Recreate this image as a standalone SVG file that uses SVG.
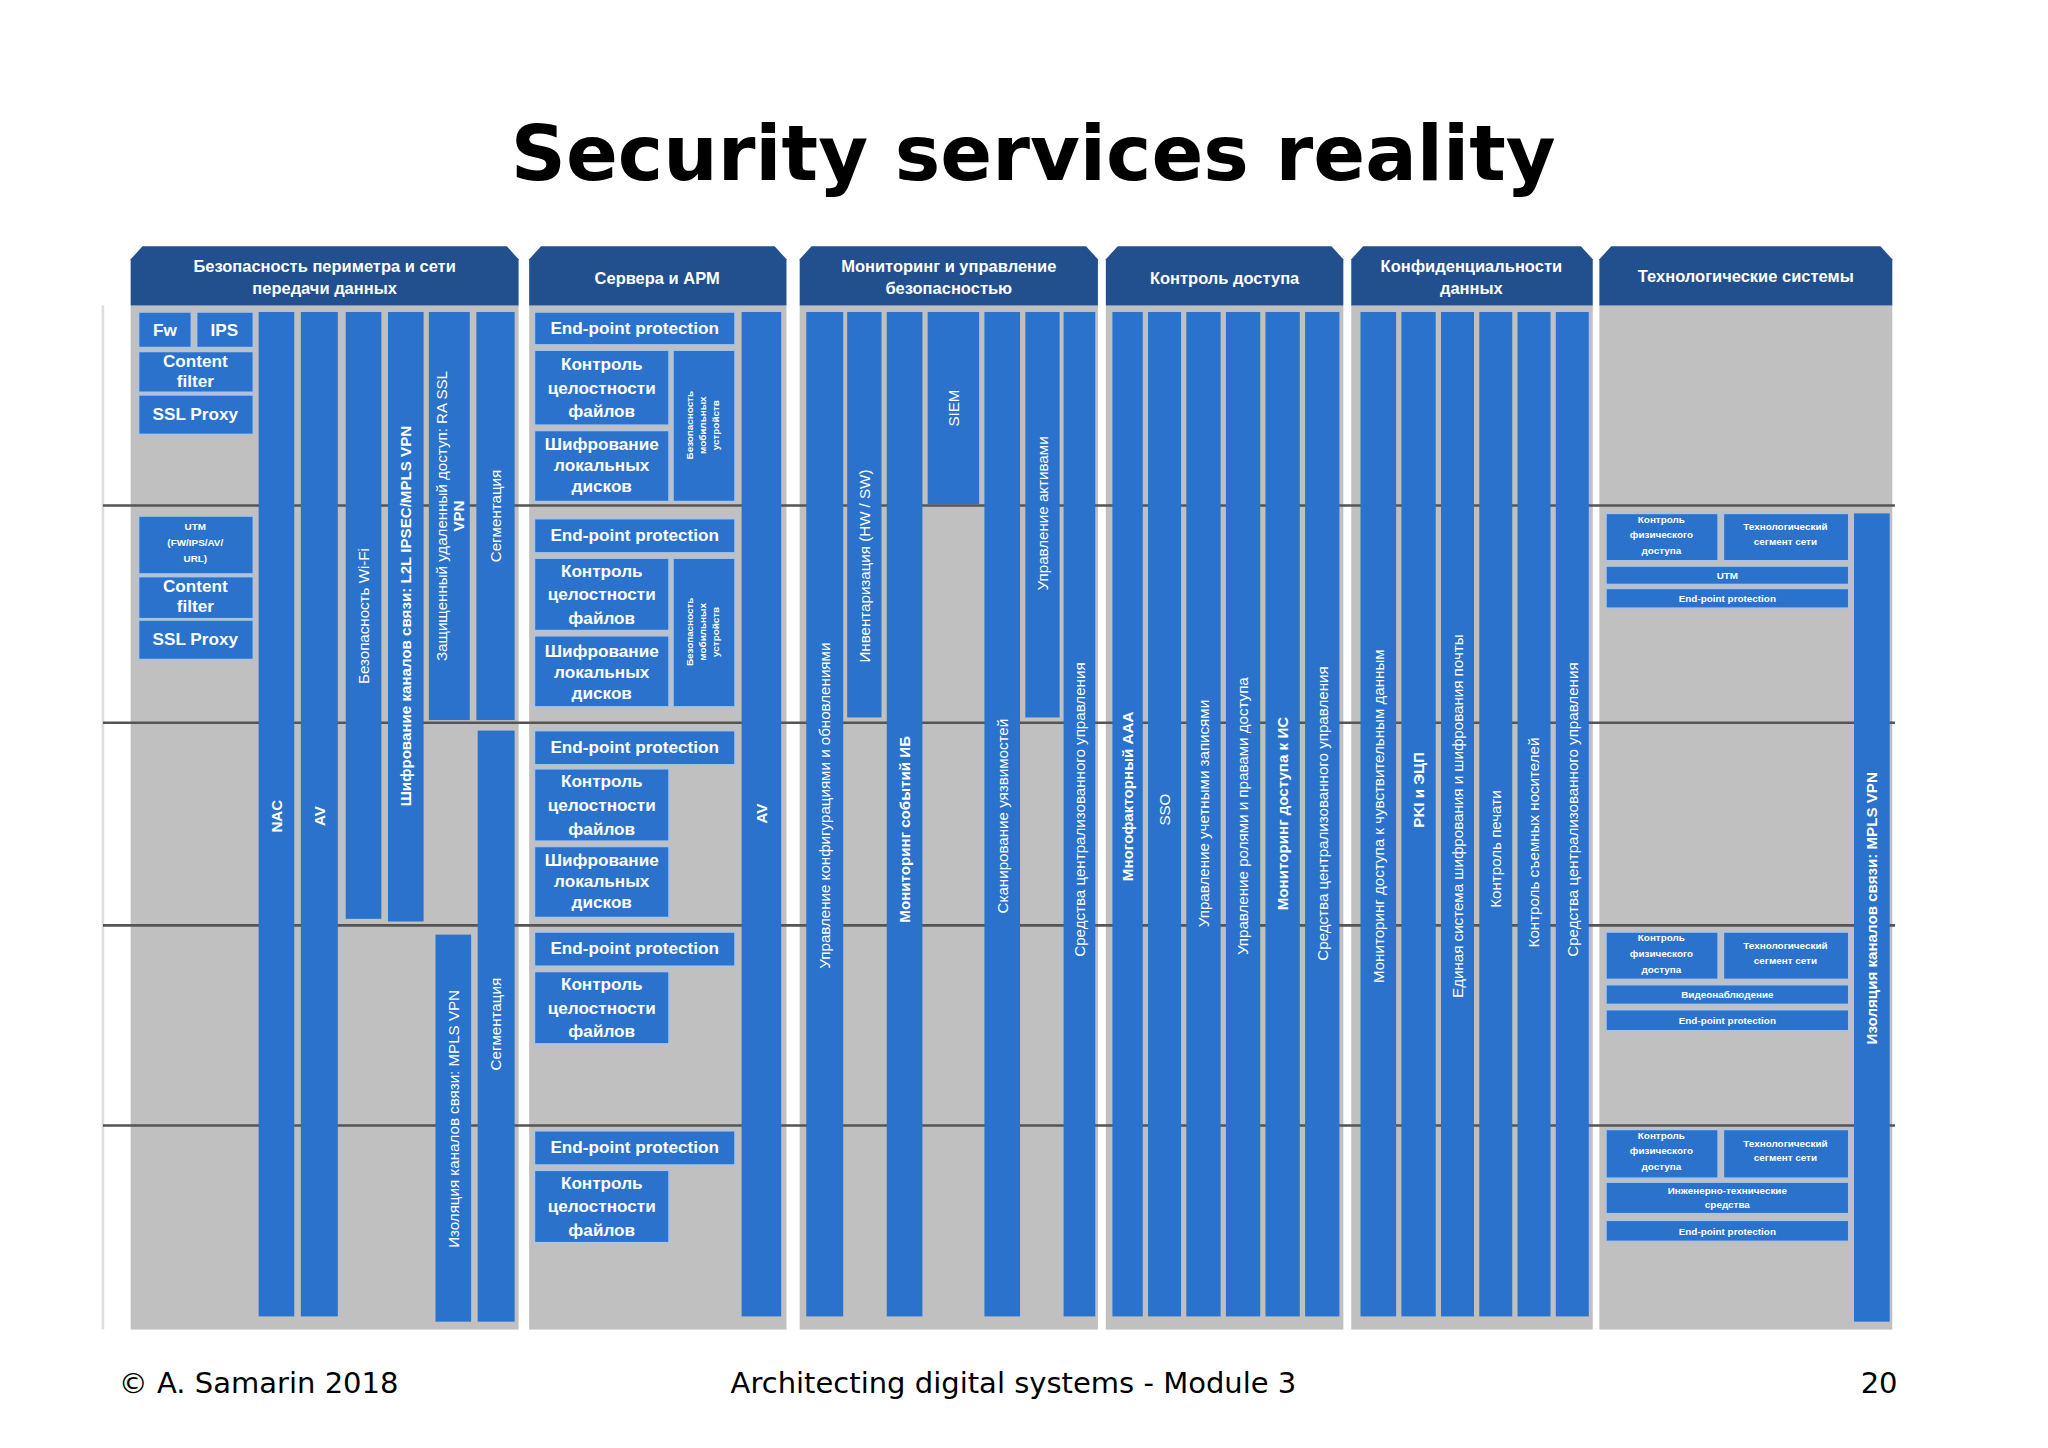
<svg xmlns="http://www.w3.org/2000/svg" width="2048" height="1448" viewBox="0 0 2048 1448">
<style>
.hd{fill:#22508f}
.bd{fill:#c0c0c0}
.b{fill:#2a72cc;stroke:#a8c3e6;stroke-width:1.2}
.bar{fill:#2a72cc}
.ht{font-family:"Liberation Sans",Arial,sans-serif;font-weight:bold;font-size:12.5px;fill:#fff;text-anchor:middle}
.bt{font-family:"Liberation Sans",Arial,sans-serif;font-weight:bold;font-size:13px;fill:#fff;text-anchor:middle}
.st{font-family:"Liberation Sans",Arial,sans-serif;font-weight:bold;font-size:7.5px;fill:#fff;text-anchor:middle}
.vt{font-family:"Liberation Sans",Arial,sans-serif;font-size:11.5px;fill:#fff;text-anchor:middle}
.vb{font-family:"Liberation Sans",Arial,sans-serif;font-weight:bold;font-size:11.5px;fill:#fff;text-anchor:middle}
.ft{font-family:"DejaVu Sans",Verdana,sans-serif;font-size:22px;fill:#000}
.ln{stroke:#555;stroke-width:2}
</style>
<rect width="2048" height="1448" fill="#fff"/>
<g transform="scale(1.3196,1.3164)">
<text x="783" y="137" text-anchor="middle" style="font-family:'DejaVu Sans',Verdana,sans-serif;font-weight:bold;font-size:58px">Security services reality</text>
<line x1="78" y1="232" x2="78" y2="1010" stroke="#ddd" stroke-width="2"/>

<!-- bodies -->
<g id="bodies">
<rect class="bd" x="99" y="232" width="294" height="778"/>
<rect class="bd" x="401" y="232" width="195" height="778"/>
<rect class="bd" x="606" y="232" width="226" height="778"/>
<rect class="bd" x="838" y="232" width="180" height="778"/>
<rect class="bd" x="1024" y="232" width="183" height="778"/>
<rect class="bd" x="1212" y="232" width="222" height="778"/>
</g>
<g id="rows">
<line class="ln" x1="78" y1="384" x2="1436" y2="384"/>
<line class="ln" x1="78" y1="549" x2="1436" y2="549"/>
<line class="ln" x1="78" y1="703" x2="1436" y2="703"/>
<line class="ln" x1="78" y1="855" x2="1436" y2="855"/>
</g>

<!-- headers -->
<g id="headers">
<path class="hd" d="M99,232 V197 L108,187 H384 L393,197 V232 Z"/>
<text class="ht" x="246" y="207">Безопасность периметра и сети</text>
<text class="ht" x="246" y="223">передачи данных</text>
<path class="hd" d="M401,232 V197 L410,187 H587 L596,197 V232 Z"/>
<text class="ht" x="498" y="216">Сервера и АРМ</text>
<path class="hd" d="M606,232 V197 L615,187 H823 L832,197 V232 Z"/>
<text class="ht" x="719" y="207">Мониторинг и управление</text>
<text class="ht" x="719" y="223">безопасностью</text>
<path class="hd" d="M838,232 V197 L847,187 H1009 L1018,197 V232 Z"/>
<text class="ht" x="928" y="216">Контроль доступа</text>
<path class="hd" d="M1024,232 V197 L1033,187 H1198 L1207,197 V232 Z"/>
<text class="ht" x="1115" y="207">Конфиденциальности</text>
<text class="ht" x="1115" y="223">данных</text>
<path class="hd" d="M1212,232 V197 L1221,187 H1425 L1434,197 V232 Z"/>
<text class="ht" x="1323" y="214">Технологические системы</text>
</g>

<!-- column 1 -->
<g id="perimeter">
<rect class="b" x="105" y="237" width="40" height="27"/><text class="bt" x="125" y="255">Fw</text>
<rect class="b" x="149" y="237" width="43" height="27"/><text class="bt" x="170" y="255">IPS</text>
<rect class="b" x="105" y="267" width="87" height="31"/><text class="bt" x="148" y="279">Content</text><text class="bt" x="148" y="294">filter</text>
<rect class="b" x="105" y="300" width="87" height="30"/><text class="bt" x="148" y="319">SSL Proxy</text>
<rect class="b" x="105" y="392" width="87" height="44"/><text class="st" x="148" y="403">UTM</text><text class="st" x="148" y="415">(FW/IPS/AV/</text><text class="st" x="148" y="427">URL)</text>
<rect class="b" x="105" y="438" width="87" height="32"/><text class="bt" x="148" y="450">Content</text><text class="bt" x="148" y="465">filter</text>
<rect class="b" x="105" y="471" width="87" height="30"/><text class="bt" x="148" y="490">SSL Proxy</text>
<rect class="bar" x="196" y="237" width="27" height="763"/><text class="vb" transform="translate(209.5,620) rotate(-90)" dy="4">NAC</text>
<rect class="bar" x="228" y="237" width="28" height="763"/><text class="vb" transform="translate(242,620) rotate(-90)" dy="4">AV</text>
<rect class="bar" x="262" y="237" width="27" height="461"/><text class="vt" transform="translate(275.5,468) rotate(-90)" dy="4">Безопасность Wi-Fi</text>
<rect class="bar" x="294" y="237" width="27" height="463"/><text class="vb" transform="translate(307.5,468) rotate(-90)" dy="4">Шифрование каналов связи: L2L IPSEC/MPLS VPN</text>
<rect class="bar" x="325" y="237" width="31" height="310"/><text class="vt" transform="translate(340.5,392) rotate(-90)" dy="-2">Защищенный удаленный доступ: RA SSL</text><text class="vb" transform="translate(340.5,392) rotate(-90)" dy="11">VPN</text>
<rect class="bar" x="361" y="237" width="29" height="310"/><text class="vt" transform="translate(375.5,392) rotate(-90)" dy="4">Сегментация</text>
<rect class="bar" x="330" y="710" width="27" height="294"/><text class="vt" transform="translate(343.5,850) rotate(-90)" dy="4">Изоляция каналов связи: MPLS VPN</text>
<rect class="bar" x="362" y="555" width="28" height="449"/><text class="vt" transform="translate(376,778) rotate(-90)" dy="4">Сегментация</text>
</g>

<!-- column 2 -->
<g id="servers">
<rect class="bar" x="562" y="237" width="30" height="763"/><text class="vb" transform="translate(577,618) rotate(-90)" dy="4">AV</text>
<rect class="b" x="405" y="237" width="152" height="25"/><text class="bt" x="481" y="254">End-point protection</text>
<rect class="b" x="405" y="266" width="102" height="57"/><text class="bt" x="456" y="281">Контроль</text><text class="bt" x="456" y="299">целостности</text><text class="bt" x="456" y="317">файлов</text>
<rect class="b" x="405" y="327" width="102" height="54"/><text class="bt" x="456" y="342">Шифрование</text><text class="bt" x="456" y="358">локальных</text><text class="bt" x="456" y="374">дисков</text>
<rect class="b" x="510" y="266" width="47" height="115"/>
<text class="st" transform="translate(533,323) rotate(-90)" dy="-8">Безопасность</text><text class="st" transform="translate(533,323) rotate(-90)" dy="2">мобильных</text><text class="st" transform="translate(533,323) rotate(-90)" dy="12">устройств</text>

<rect class="b" x="405" y="394" width="152" height="26"/><text class="bt" x="481" y="411">End-point protection</text>
<rect class="b" x="405" y="424" width="102" height="55"/><text class="bt" x="456" y="438">Контроль</text><text class="bt" x="456" y="456">целостности</text><text class="bt" x="456" y="474">файлов</text>
<rect class="b" x="405" y="483" width="102" height="54"/><text class="bt" x="456" y="499">Шифрование</text><text class="bt" x="456" y="515">локальных</text><text class="bt" x="456" y="531">дисков</text>
<rect class="b" x="510" y="424" width="47" height="113"/>
<text class="st" transform="translate(533,480) rotate(-90)" dy="-8">Безопасность</text><text class="st" transform="translate(533,480) rotate(-90)" dy="2">мобильных</text><text class="st" transform="translate(533,480) rotate(-90)" dy="12">устройств</text>

<rect class="b" x="405" y="555" width="152" height="26"/><text class="bt" x="481" y="572">End-point protection</text>
<rect class="b" x="405" y="584" width="102" height="55"/><text class="bt" x="456" y="598">Контроль</text><text class="bt" x="456" y="616">целостности</text><text class="bt" x="456" y="634">файлов</text>
<rect class="b" x="405" y="643" width="102" height="54"/><text class="bt" x="456" y="658">Шифрование</text><text class="bt" x="456" y="674">локальных</text><text class="bt" x="456" y="690">дисков</text>

<rect class="b" x="405" y="708" width="152" height="26"/><text class="bt" x="481" y="725">End-point protection</text>
<rect class="b" x="405" y="738" width="102" height="55"/><text class="bt" x="456" y="752">Контроль</text><text class="bt" x="456" y="770">целостности</text><text class="bt" x="456" y="788">файлов</text>

<rect class="b" x="405" y="859" width="152" height="26"/><text class="bt" x="481" y="876">End-point protection</text>
<rect class="b" x="405" y="889" width="102" height="55"/><text class="bt" x="456" y="903">Контроль</text><text class="bt" x="456" y="921">целостности</text><text class="bt" x="456" y="939">файлов</text>
</g>

<!-- column 3 -->
<g id="monitoring">
<rect class="bar" x="611" y="237" width="28" height="763"/><text class="vt" transform="translate(625,612) rotate(-90)" dy="4">Управление конфигурациями и обновлениями</text>
<rect class="bar" x="642" y="237" width="26" height="308"/><text class="vt" transform="translate(655,430) rotate(-90)" dy="4">Инвентаризация (HW / SW)</text>
<rect class="bar" x="672" y="237" width="27" height="763"/><text class="vb" transform="translate(685.5,630) rotate(-90)" dy="4">Мониторинг событий ИБ</text>
<rect class="bar" x="703" y="237" width="39" height="146"/><text class="vt" transform="translate(722.5,310) rotate(-90)" dy="4">SIEM</text>
<rect class="bar" x="746" y="237" width="27" height="763"/><text class="vt" transform="translate(759.5,620) rotate(-90)" dy="4">Сканирование уязвимостей</text>
<rect class="bar" x="777" y="237" width="26" height="308"/><text class="vt" transform="translate(790,390) rotate(-90)" dy="4">Управление активами</text>
<rect class="bar" x="806" y="237" width="24" height="763"/><text class="vt" transform="translate(818,615) rotate(-90)" dy="4">Средства централизованного управления</text>
</g>

<!-- column 4 -->
<g id="access">
<rect class="bar" x="843" y="237" width="23" height="763"/><text class="vb" transform="translate(854.5,605) rotate(-90)" dy="4">Многофакторный AAA</text>
<rect class="bar" x="870" y="237" width="25" height="763"/><text class="vt" transform="translate(882.5,615) rotate(-90)" dy="4">SSO</text>
<rect class="bar" x="899" y="237" width="26" height="763"/><text class="vt" transform="translate(912,618) rotate(-90)" dy="4">Управление учетными записями</text>
<rect class="bar" x="929" y="237" width="26" height="763"/><text class="vt" transform="translate(942,620) rotate(-90)" dy="4">Управление ролями и правами доступа</text>
<rect class="bar" x="959" y="237" width="26" height="763"/><text class="vb" transform="translate(972,618) rotate(-90)" dy="4">Мониторинг доступа к ИС</text>
<rect class="bar" x="989" y="237" width="26" height="763"/><text class="vt" transform="translate(1002,618) rotate(-90)" dy="4">Средства централизованного управления</text>
</g>

<!-- column 5 -->
<g id="confidentiality">
<rect class="bar" x="1031" y="237" width="27" height="763"/><text class="vt" transform="translate(1044.5,620) rotate(-90)" dy="4">Мониторинг доступа к чувствительным данным</text>
<rect class="bar" x="1062" y="237" width="26" height="763"/><text class="vb" transform="translate(1075,600) rotate(-90)" dy="4">PKI и ЭЦП</text>
<rect class="bar" x="1092" y="237" width="25" height="763"/><text class="vt" transform="translate(1104.5,620) rotate(-90)" dy="4">Единая система шифрования и шифрования почты</text>
<rect class="bar" x="1121" y="237" width="25" height="763"/><text class="vt" transform="translate(1133.5,645) rotate(-90)" dy="4">Контроль печати</text>
<rect class="bar" x="1150" y="237" width="25" height="763"/><text class="vt" transform="translate(1162.5,640) rotate(-90)" dy="4">Контроль съемных носителей</text>
<rect class="bar" x="1179" y="237" width="25" height="763"/><text class="vt" transform="translate(1191.5,615) rotate(-90)" dy="4">Средства централизованного управления</text>
</g>

<!-- column 6 -->
<g id="tech">
<rect class="bar" x="1405" y="390" width="27" height="614"/><text class="vb" transform="translate(1418.5,690) rotate(-90)" dy="4">Изоляция каналов связи: MPLS VPN</text>
<rect class="b" x="1217" y="390" width="85" height="36"/><text class="st" x="1259" y="397">Контроль</text><text class="st" x="1259" y="409">физического</text><text class="st" x="1259" y="421">доступа</text>
<rect class="b" x="1306" y="390" width="95" height="36"/><text class="st" x="1353" y="403">Технологический</text><text class="st" x="1353" y="414">сегмент сети</text>
<rect class="b" x="1217" y="430" width="184" height="14"/><text class="st" x="1309" y="440">UTM</text>
<rect class="b" x="1217" y="447" width="184" height="15"/><text class="st" x="1309" y="457">End-point protection</text>

<rect class="b" x="1217" y="708" width="85" height="36"/><text class="st" x="1259" y="715">Контроль</text><text class="st" x="1259" y="727">физического</text><text class="st" x="1259" y="739">доступа</text>
<rect class="b" x="1306" y="708" width="95" height="36"/><text class="st" x="1353" y="721">Технологический</text><text class="st" x="1353" y="732">сегмент сети</text>
<rect class="b" x="1217" y="748" width="184" height="15"/><text class="st" x="1309" y="758">Видеонаблюдение</text>
<rect class="b" x="1217" y="767" width="184" height="16"/><text class="st" x="1309" y="778">End-point protection</text>

<rect class="b" x="1217" y="858" width="85" height="37"/><text class="st" x="1259" y="865">Контроль</text><text class="st" x="1259" y="877">физического</text><text class="st" x="1259" y="889">доступа</text>
<rect class="b" x="1306" y="858" width="95" height="37"/><text class="st" x="1353" y="871">Технологический</text><text class="st" x="1353" y="882">сегмент сети</text>
<rect class="b" x="1217" y="898" width="184" height="24"/><text class="st" x="1309" y="907">Инженерно-технические</text><text class="st" x="1309" y="918">средства</text>
<rect class="b" x="1217" y="927" width="184" height="16"/><text class="st" x="1309" y="938">End-point protection</text>
</g>

<g id="footer">
<text class="ft" x="90" y="1058">© A. Samarin 2018</text>
<text class="ft" x="768" y="1058" text-anchor="middle">Architecting digital systems - Module 3</text>
<text class="ft" x="1438" y="1058" text-anchor="end">20</text>
</g>
</g>
</svg>
